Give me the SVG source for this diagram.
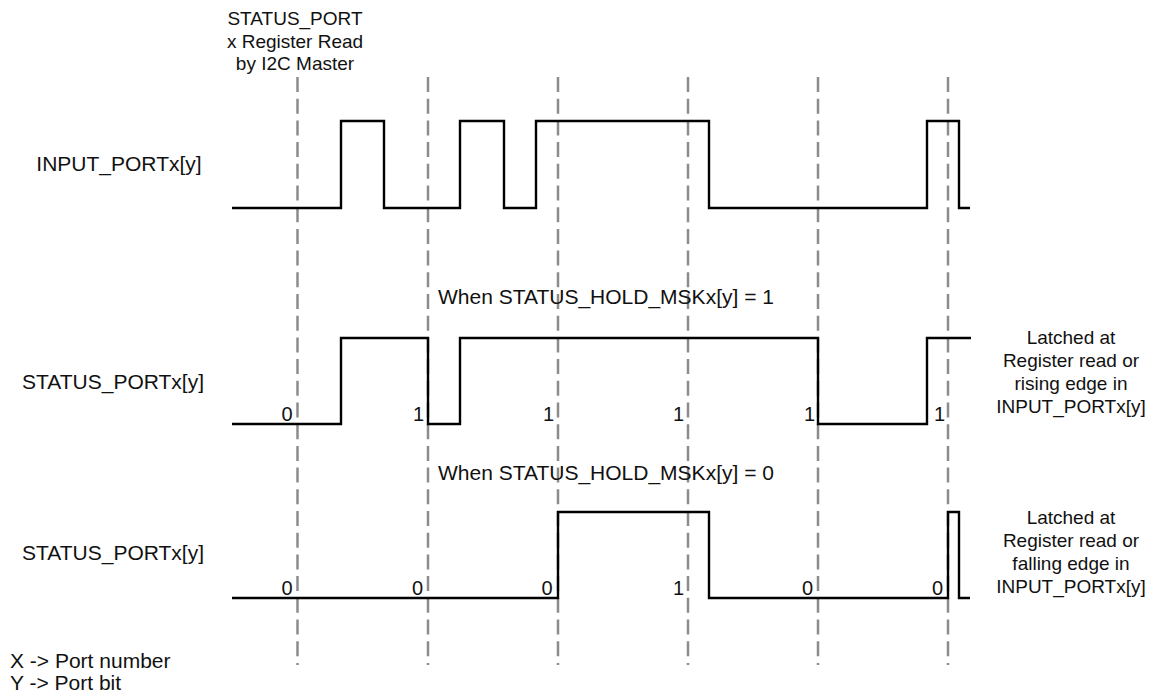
<svg xmlns="http://www.w3.org/2000/svg" width="1157" height="700" viewBox="0 0 1157 700">
<style>
text{font-family:"Liberation Sans",Arial,sans-serif;fill:#111}
.big{font-size:21px}
.med{font-size:19px}
.dig{font-size:20px;text-anchor:end}
.mid{text-anchor:middle}
.wave{fill:none;stroke:#000;stroke-width:2.4;stroke-linejoin:miter}
.dash{stroke:#8c8c8c;stroke-width:2.5;stroke-dasharray:15 6.7}
</style>
<rect width="1157" height="700" fill="#fff"/>
<g id="markers">
<line class="dash" x1="297.5" y1="77" x2="297.5" y2="665"/>
<line class="dash" x1="428" y1="77" x2="428" y2="665"/>
<line class="dash" x1="558" y1="77" x2="558" y2="665"/>
<line class="dash" x1="688" y1="77" x2="688" y2="665"/>
<line class="dash" x1="818" y1="77" x2="818" y2="665"/>
<line class="dash" x1="948" y1="77" x2="948" y2="665"/>
</g>
<g id="read-label">
<text class="med mid" x="295" y="25">STATUS_PORT</text>
<text class="med mid" x="295" y="47.5">x Register Read</text>
<text class="med mid" x="295" y="70">by I2C Master</text>
</g>
<g id="input-port">
<text class="big mid" x="119" y="171">INPUT_PORTx[y]</text>
<path class="wave" d="M232,208 H341 V121 H384 V208 H460 V121 H504 V208 H536 V121 H709 V208 H927 V121 H959 V208 H970"/>
</g>
<g id="status-hold1">
<text class="big" x="438" y="304">When STATUS_HOLD_MSKx[y] = 1</text>
<text class="big mid" x="113" y="389">STATUS_PORTx[y]</text>
<path class="wave" d="M232,424 H341 V338 H428 V424 H460 V338 H818 V424 H927 V338 H971"/>
<text class="dig" x="292.5" y="421">0</text>
<text class="dig" x="424" y="421">1</text>
<text class="dig" x="554" y="421">1</text>
<text class="dig" x="684" y="421">1</text>
<text class="dig" x="815" y="421">1</text>
<text class="dig" x="945" y="421">1</text>
<text class="med mid" x="1071" y="344">Latched at</text>
<text class="med mid" x="1071" y="367">Register read or</text>
<text class="med mid" x="1071" y="390">rising edge in</text>
<text class="med mid" x="1071" y="413">INPUT_PORTx[y]</text>
</g>
<g id="status-hold0">
<text class="big" x="438" y="480">When STATUS_HOLD_MSKx[y] = 0</text>
<text class="big mid" x="113" y="560">STATUS_PORTx[y]</text>
<path class="wave" d="M232,598 H558 V512 H709 V598 H948 V512 H959 V598 H970"/>
<text class="dig" x="292.5" y="595">0</text>
<text class="dig" x="423" y="595">0</text>
<text class="dig" x="552.5" y="595">0</text>
<text class="dig" x="684" y="595">1</text>
<text class="dig" x="813" y="595">0</text>
<text class="dig" x="943" y="595">0</text>
<text class="med mid" x="1071" y="524">Latched at</text>
<text class="med mid" x="1071" y="547">Register read or</text>
<text class="med mid" x="1071" y="570">falling edge in</text>
<text class="med mid" x="1071" y="593">INPUT_PORTx[y]</text>
</g>
<g id="legend">
<text class="big" x="10" y="668">X -&gt; Port number</text>
<text class="big" x="10" y="690">Y -&gt; Port bit</text>
</g>
</svg>
